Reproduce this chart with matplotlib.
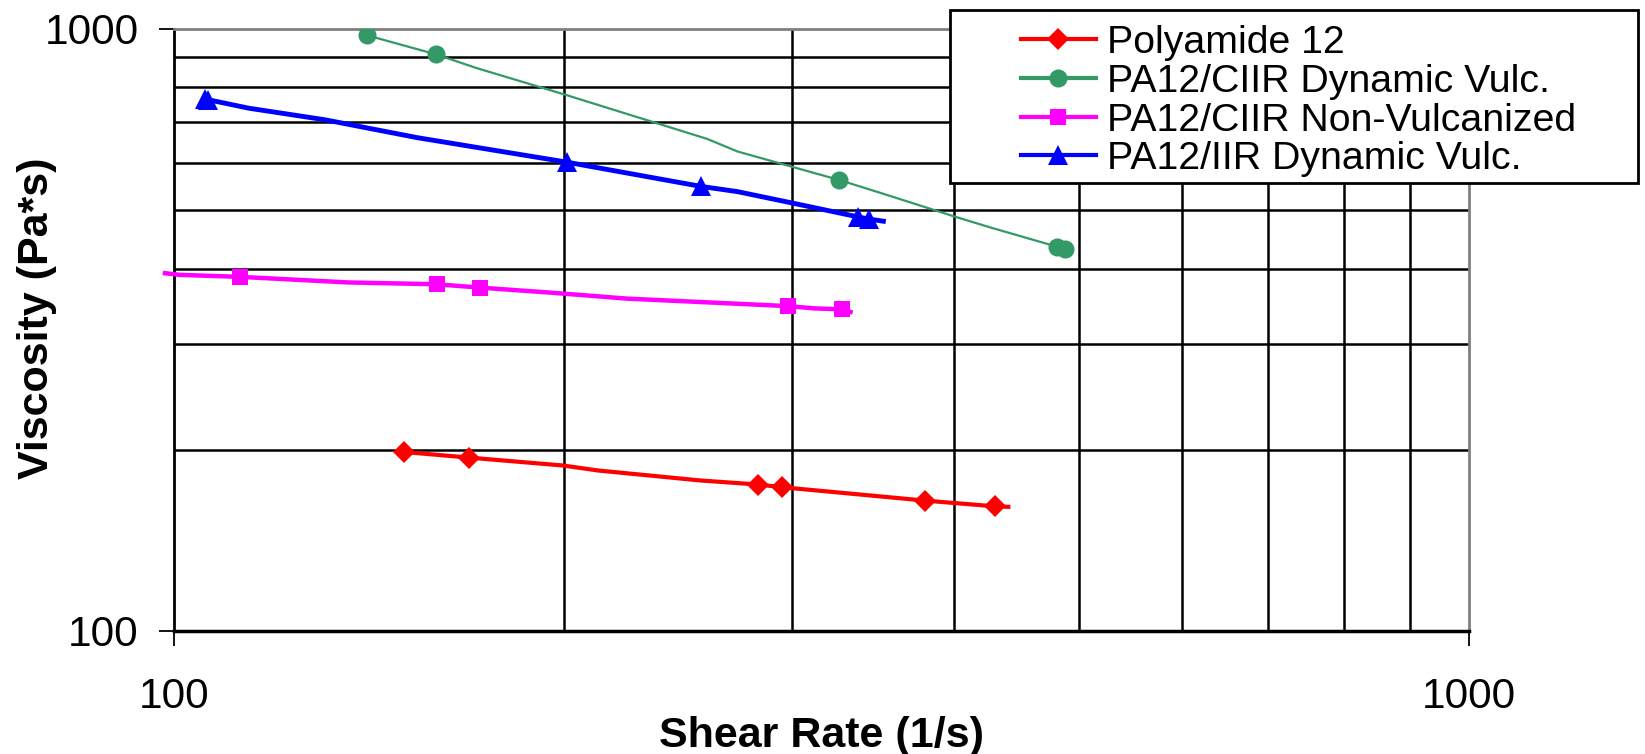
import matplotlib
matplotlib.use("Agg")
import matplotlib.pyplot as plt
from matplotlib.lines import Line2D
from matplotlib.patches import Rectangle
from matplotlib.ticker import FixedLocator, NullFormatter, FixedFormatter

plt.rcParams["font.family"] = ["Liberation Sans", "DejaVu Sans"]

# data (shear rate 1/s, viscosity Pa*s)
pa12_x = [150.6, 169.0, 199.8, 212.4, 255.3, 282.7, 294.9, 379.8, 430.2, 440.8]
pa12_y = [198.3, 194.1, 188.3, 184.8, 177.8, 175.1, 173.3, 164.7, 161.1, 160.8]
pa12_marks = [0, 1, 5, 6, 7, 8]

ciir_dv_x = [141.0, 159.2, 171.2, 200.3, 258.0, 272.4, 326.4, 353.0, 401.6, 427.1, 480.3, 487.5]
ciir_dv_y = [976.0, 908.0, 861.4, 778.3, 656.9, 625.9, 561.2, 532.4, 487.3, 468.0, 435.1, 431.6]
ciir_dv_marks = [0, 1, 6, 10, 11]

ciir_nv_x = [98.4, 101.0, 112.5, 136.3, 159.5, 172.2, 195.1, 223.6, 297.7, 312.2, 328.1, 333.0]
ciir_nv_y = [393.0, 390.5, 387.5, 379.3, 376.7, 371.9, 364.9, 356.6, 346.5, 343.5, 342.2, 338.8]
ciir_nv_marks = [2, 4, 5, 8, 10]

iir_dv_x = [105.6, 106.3, 114.2, 130.8, 154.2, 201.0, 255.2, 272.4, 300.8, 337.6, 344.0, 353.0]
iir_dv_y = [765.9, 762.9, 738.7, 706.6, 659.8, 601.0, 547.7, 536.8, 513.5, 487.3, 483.4, 479.4]
iir_dv_marks = [0, 1, 5, 6, 9, 10]

labels = ["Polyamide 12", "PA12/CIIR Dynamic Vulc.",
          "PA12/CIIR Non-Vulcanized", "PA12/IIR Dynamic Vulc."]
colors = ["#FF0000", "#339966", "#FF00FF", "#0000FF"]
markers = ["D", "o", "s", "^"]
msizes = [11, 13, 12, 14]
lwidths = [3, 1.6, 3.2, 3.5]

W, H = 1645, 754
fig = plt.figure(figsize=(W / 100, H / 100), dpi=100)
ax = fig.add_axes([174 / W, 1 - 631 / H, 1295 / W, 602 / H])

series = [(pa12_x, pa12_y, pa12_marks), (ciir_dv_x, ciir_dv_y, ciir_dv_marks),
          (ciir_nv_x, ciir_nv_y, ciir_nv_marks), (iir_dv_x, iir_dv_y, iir_dv_marks)]
for k, (xs, ys, mk) in enumerate(series):
    ax.plot(xs, ys, color=colors[k], lw=lwidths[k], marker=markers[k],
            markersize=msizes[k], markevery=mk, markeredgewidth=0,
            clip_on=(k != 2), zorder=3)

ax.set_xscale("log")
ax.set_yscale("log")
ax.set_xlim(100, 1000)
ax.set_ylim(100, 1000)

for axis in (ax.xaxis, ax.yaxis):
    axis.set_major_locator(FixedLocator([100, 1000]))
    axis.set_major_formatter(FixedFormatter(["100", "1000"]))
    axis.set_minor_locator(FixedLocator([200, 300, 400, 500, 600, 700, 800, 900]))
    axis.set_minor_formatter(NullFormatter())

ax.grid(which="minor", color="black", lw=1.8)
ax.tick_params(which="minor", length=0)
ax.tick_params(axis="x", which="major", length=11, width=1.3, pad=22, labelsize=30.5)
ax.tick_params(axis="y", which="major", length=11, width=1.3, pad=14.5, labelsize=30.5)

ax.spines["left"].set_linewidth(2)
ax.spines["bottom"].set_linewidth(2.5)
for s in ("top", "right"):
    ax.spines[s].set_color("#808080")
    ax.spines[s].set_linewidth(2)

ax.set_xlabel("Shear Rate (1/s)", fontsize=31, fontweight="bold", va="top")
ax.xaxis.set_label_coords(0.5, (631 - 716) / 602)
ax.set_ylabel("Viscosity (Pa*s)", fontsize=31, fontweight="bold")
ax.yaxis.set_label_coords((57 - 174) / 1295, (631 - 318) / 602)

# legend box sits partly outside the plot area
box = Rectangle((950 / W, 1 - 183 / H), 688 / W, 173 / H, transform=fig.transFigure,
                facecolor="white", edgecolor="black", lw=2, zorder=5)
fig.patches.append(box)

handles = [Line2D([0], [0], color=colors[k], lw=3, marker=markers[k],
                  markersize=msizes[k], markeredgewidth=0) for k in range(4)]
leg = fig.legend(handles, labels, loc="upper left", bbox_to_anchor=(1021 / W, 1 - 25 / H),
                 bbox_transform=fig.transFigure, frameon=False, fontsize=28.3,
                 handlelength=1.9, handletextpad=0.3, labelspacing=0.07,
                 borderpad=0, borderaxespad=0, numpoints=1)
leg.set_zorder(6)

fig.savefig("out.png", dpi=100)
